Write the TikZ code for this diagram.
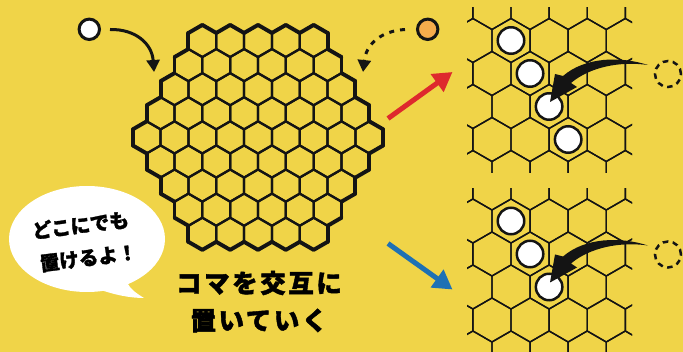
\documentclass[tikz,border=0pt]{standalone}
\usepackage{fontspec}
\newfontfamily\jp{Noto Sans CJK JP}[BoldFeatures={FakeBold=1.6}]
\newfontfamily\jpsp{Noto Sans CJK JP}[LetterSpace=10,BoldFeatures={FakeBold=1.6}]
\usetikzlibrary{arrows.meta,calc,shapes.geometric}
\definecolor{bgyellow}{RGB}{240,212,72}
\definecolor{arrowred}{RGB}{222,41,45}
\definecolor{arrowblue}{RGB}{30,113,180}
\definecolor{pieceorange}{RGB}{245,172,76}
\definecolor{inkblack}{RGB}{20,20,20}
\tikzset{
  hexin/.style={line width=2.2pt, line join=round, draw=inkblack},
  hexout/.style={line width=3.9pt, line cap=round, draw=inkblack},
  smallhex/.style={line width=1.4pt, line join=round, draw=inkblack},
  piece/.style={circle, draw=inkblack, line width=2.5pt, fill=white, minimum size=26.5pt, inner sep=0pt},
  ghost/.style={circle, draw=inkblack, line width=2.5pt, dash pattern=on 5.5pt off 4.5pt, minimum size=26pt, inner sep=0pt},
  startpiece/.style={circle, draw=inkblack, line width=3pt, minimum size=20.4pt, inner sep=0pt},
  bigarrow/.style={line width=5pt, -{Triangle[length=19pt,width=21pt]}},
  curvearr/.style={line width=3pt, draw=inkblack, -{Triangle[length=12pt,width=13pt]}},
  bubbletext/.style={font=\jp\bfseries\fontsize{19.5}{20}\selectfont, rotate=7, inner sep=0pt},
  titletext/.style={font=\jpsp\bfseries\fontsize{25.5}{26}\selectfont, inner sep=0pt},
}
\newcommand\smallboard[3]{%
  \begin{scope}
    \clip (467,#2) rectangle (632,#3);
    \foreach \j in {-1,...,5}{
      \foreach \k in {-2,...,5}{
        \pgfmathsetmacro\xc{511+38.1*\k+19.05*mod(abs(\j),2)}
        \pgfmathsetmacro\yc{#1+33*\j}
        \draw[smallhex, shift={(\xc,\yc)}] (30:22) -- (90:22) -- (150:22) -- (210:22) -- (270:22) -- (330:22) -- cycle;
      }
    }
  \end{scope}
}
\newcommand\swoosh[1]{%
  \begin{scope}[shift={(0,#1)}]
    \fill[inkblack] (648,65) .. controls (620,56) and (585,57) .. (563,76) -- (555,74) -- (550,102) -- (577,87) -- (571,83) .. controls (590,67) and (620,61) .. (648,65) -- cycle;
  \end{scope}
}
\begin{document}
\begin{tikzpicture}[x=1pt,y=-1pt]
\useasboundingbox (0,0) rectangle (683,352);
\fill[bgyellow] (0,0) rectangle (683,352);

% main hexagonal board
\foreach \q in {-4,...,4}{
  \foreach \r in {-4,...,4}{
    \pgfmathtruncatemacro\inb{abs((\q)+(\r))<=4}
    \ifnum\inb=1
      \pgfmathsetmacro\xc{258+27.83*(\q+0.5*\r)}
      \pgfmathsetmacro\yc{137.4+24.1*\r}
      \draw[hexin, shift={(\xc,\yc)}] (30:16.07) -- (90:16.07) -- (150:16.07) -- (210:16.07) -- (270:16.07) -- (330:16.07) -- cycle;
      \foreach \dq/\dr/\ang in {1/0/0, 0/1/60, -1/1/120, -1/0/180, 0/-1/240, 1/-1/300}{
        \pgfmathtruncatemacro\outn{max(abs((\q)+(\dq)),abs((\r)+(\dr)),abs((\q)+(\dq)+(\r)+(\dr)))>4}
        \ifnum\outn=1
          \draw[hexout, shift={(\xc,\yc)}] (\ang-30:16.07) -- (\ang+30:16.07);
        \fi
      }
    \fi
  }
}

% starting pieces and arrows to the board
\node[startpiece, fill=white] (wp) at (89.3,29.3) {};
\coordinate (wstart) at (110,29.5);
\coordinate (wend) at (154,72);
\draw[curvearr] (wstart) .. controls (136,29) and (152,44) .. (wend);

\node[startpiece, fill=pieceorange] (op) at (427.7,29.3) {};
\coordinate (ostart) at (405,29.5);
\coordinate (oend) at (363,72);
\draw[curvearr, dash pattern=on 5pt off 6pt] (ostart) .. controls (380,31) and (366,45) .. (oend);

% red and blue arrows
\coordinate (ra) at (388,118.5);
\coordinate (rb) at (452.5,72);
\draw[bigarrow, draw=arrowred, fill=arrowred] (ra) -- (rb);
\coordinate (ba) at (388,243.5);
\coordinate (bb) at (452.5,289.5);
\draw[bigarrow, draw=arrowblue, fill=arrowblue] (ba) -- (bb);

% upper right board
\smallboard{40.5}{8}{173}
\node[piece] (u1) at (511,40.5) {};
\node[piece] (u2) at (530.05,73.5) {};
\node[piece] (u3) at (549.1,106.5) {};
\node[piece] (u4) at (568.15,139.5) {};
\node[ghost] (ug) at (668,74) {};
\swoosh{0}

% lower right board
\smallboard{221}{188.5}{352}
\node[piece] (l1) at (511,221) {};
\node[piece] (l2) at (530.05,254) {};
\node[piece] (l3) at (549.1,287) {};
\node[ghost] (lg) at (668,254.5) {};
\swoosh{180.5}

% speech bubble
\node[ellipse, fill=white, minimum width=156pt, minimum height=106pt, inner sep=0pt] (bubble) at (87,239) {};
\fill[white] (98,289) .. controls (115,295) and (130,298) .. (144,298) .. controls (134,292) and (128,287) .. (126,279) -- cycle;
\node[bubbletext] (bt1) at (80.5,225) {どこにでも};
\node[bubbletext] (bt2) at (88.5,258) {置けるよ！};

% caption
\node[titletext] (t1) at (259,283) {コマを交互に};
\node[titletext] (t2) at (259,320.5) {置いていく};
\end{tikzpicture}
\end{document}
